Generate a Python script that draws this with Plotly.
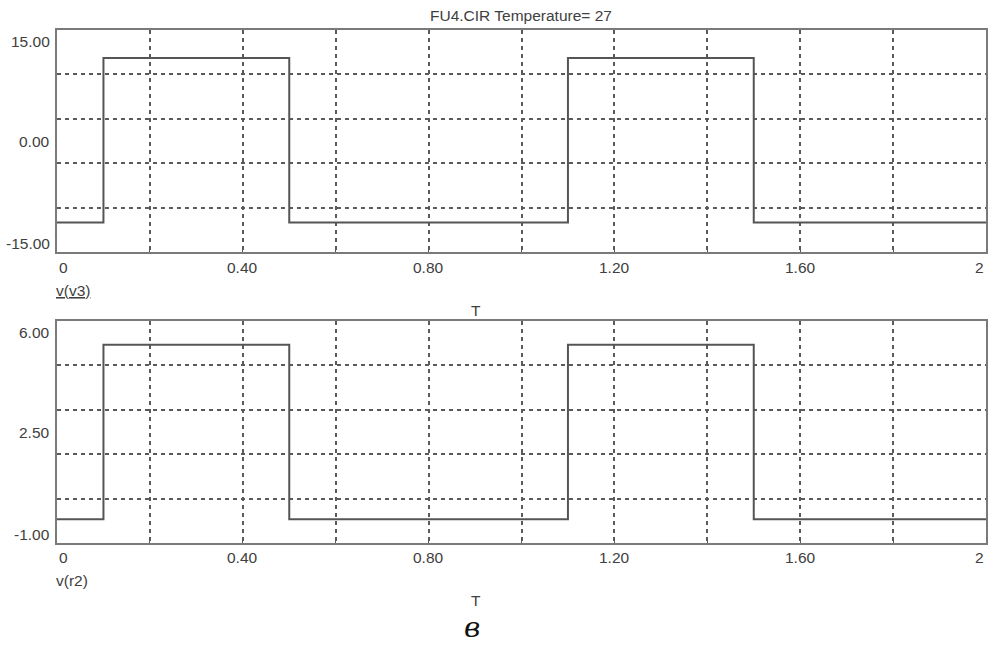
import plotly.graph_objects as go

# Transient simulation results (time in seconds)
time_s = [0.0, 0.1, 0.5, 1.1, 1.5, 2.0]
v_v3 = [-11.0, 11.2, -11.0, 11.2, -11.0, -11.0]
v_r2 = [-0.25, 5.25, -0.25, 5.25, -0.25, -0.25]

# Axis labels
x_tick_vals = [0.0, 0.4, 0.8, 1.2, 1.6, 2.0]
x_tick_text = ["0", "0.40", "0.80", "1.20", "1.60", "2"]
top_y_vals = [15.0, 0.0, -15.0]
top_y_text = ["15.00", "0.00", "-15.00"]
bot_y_vals = [6.0, 2.5, -1.0]
bot_y_text = ["6.00", "2.50", "-1.00"]

W, H = 992, 650
LEFT, RIGHT = 57, 986
TOP1, BOT1 = 30, 252
TOP2, BOT2 = 321, 543

def px_x(p):
    return p / W

def px_y(p):
    return 1 - p / H

TXT = "#404040"
FONT = "Liberation Sans, Arial, sans-serif"
LINE = "#555555"
FRAME = "#7a7a7a"
GRID = "#5a5a5a"
DASH = "4px,4px"

fig = go.Figure()
fig.add_trace(go.Scatter(x=time_s, y=v_v3, mode="lines", line=dict(shape="hv", color=LINE, width=2),
                         xaxis="x", yaxis="y", showlegend=False, hoverinfo="skip"))
fig.add_trace(go.Scatter(x=time_s, y=v_r2, mode="lines", line=dict(shape="hv", color=LINE, width=2),
                         xaxis="x2", yaxis="y2", showlegend=False, hoverinfo="skip"))

grid_x = [0.2 * i for i in range(1, 10)]

def xaxis(anchor):
    return dict(domain=[px_x(LEFT), px_x(RIGHT)], range=[0, 2], anchor=anchor,
                tickmode="array", tickvals=grid_x, showticklabels=False,
                ticks="inside", ticklen=3, tickcolor=GRID, tickwidth=1,
                showgrid=True, gridcolor=GRID, gridwidth=1.5, griddash=DASH,
                showline=True, linecolor=FRAME, linewidth=2, mirror="allticks",
                zeroline=False, fixedrange=True)

def yaxis(anchor, lo, hi, top, bot):
    step = (hi - lo) / 5
    return dict(domain=[px_y(bot), px_y(top)], range=[lo, hi], anchor=anchor,
                tickmode="array", tickvals=[lo + step * k for k in range(1, 5)],
                showticklabels=False, ticks="",
                showgrid=True, gridcolor=GRID, gridwidth=1.5, griddash=DASH,
                showline=True, linecolor=FRAME, linewidth=2, mirror=True,
                zeroline=False, fixedrange=True)

fig.update_layout(
    width=W, height=H, autosize=False,
    margin=dict(l=0, r=0, t=0, b=0),
    paper_bgcolor="white", plot_bgcolor="white",
    xaxis=xaxis("y"), yaxis=yaxis("x", -15, 15, TOP1, BOT1),
    xaxis2=xaxis("y2"), yaxis2=yaxis("x2", -1, 6, TOP2, BOT2),
)

ann = []

def text(x, y, s, xref="paper", yref="paper", xanchor="center", size=15.5, **kw):
    ann.append(dict(x=x, y=y, xref=xref, yref=yref, text=s, showarrow=False,
                    xanchor=xanchor, yanchor="middle",
                    font=dict(family=kw.pop("family", FONT), size=size, color=kw.pop("color", TXT)), **kw))

# title
text(px_x(521), px_y(15), "FU4.CIR Temperature= 27")

# x tick labels for both panels
for row_y, xr in ((267, "x"), (557, "x2")):
    for v, s in zip(x_tick_vals, x_tick_text):
        anchor = "left" if v == 0 else ("right" if v == 2 else "center")
        text(v, px_y(row_y), s, xref=xr, xanchor=anchor)

# y tick labels
for vals, labels, yr in ((top_y_vals, top_y_text, "y"), (bot_y_vals, bot_y_text, "y2")):
    for i, (v, s) in enumerate(zip(vals, labels)):
        shift = -11 if i == 0 else (9 if i == 2 else 0)
        text(px_x(52), v, s, yref=yr, xanchor="right", yshift=shift)

# trace names and time axis titles
text(px_x(54), px_y(290), "<u>v(v3)</u>", xanchor="left")
text(px_x(54), px_y(580), "v(r2)", xanchor="left")
text(px_x(476), px_y(310), "T")
text(px_x(476), px_y(600), "T")
text(px_x(472), px_y(627), "<i>в</i>", size=28, color="#111111", family="DejaVu Serif, serif")

fig.update_layout(annotations=ann)
fig.write_html("out.html")
